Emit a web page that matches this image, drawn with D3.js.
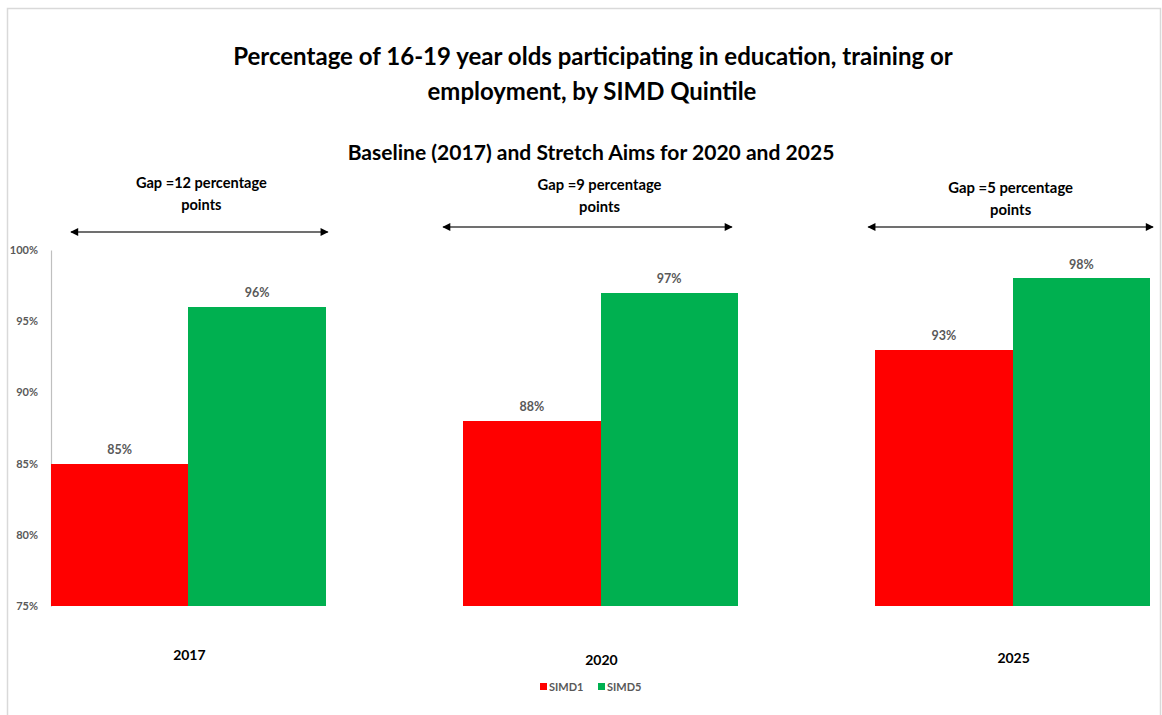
<!DOCTYPE html>
<html><head><meta charset="utf-8">
<script src="https://cdn.jsdelivr.net/npm/d3@7"></script>
<style>body{margin:0;background:#fff} text{font-family:Lato,"Open Sans",sans-serif;}</style>
</head><body>
<svg id="c" width="1162" height="715"></svg>
<script>
// ---- data ----
const categories = ["2017", "2020", "2025"];
const seriesNames = ["SIMD1", "SIMD5"];
const simd1 = [85, 88, 93];
const simd5 = [96, 97, 98];
const yTicks = [75, 80, 85, 90, 95, 100];
const gapLabels = [["Gap =12 percentage", "points"], ["Gap =9 percentage", "points"], ["Gap =5 percentage", "points"]];
const titleLines = ["Percentage of 16-19 year olds participating in education, training or", "employment, by SIMD Quintile"];
const subtitle = "Baseline (2017) and Stretch Aims for 2020 and 2025";

// ---- layout / style ----
const colors = {SIMD1: "#ff0000", SIMD5: "#00b050"};
const svg = d3.select("#c");

function fit(sel, w) {
  const cur = sel.node().getComputedTextLength();
  const fs = parseFloat(sel.attr("font-size"));
  sel.attr("font-size", fs * w / cur);
  return fs * w / cur;
}

// border
svg.append("rect").attr("x", 7.5).attr("y", 8.5).attr("width", 1153).attr("height", 720)
  .attr("fill", "#fff").attr("stroke", "#d9d9d9").attr("stroke-width", 1.5);

const x = d3.scaleBand().domain(categories).range([51, 1150]).paddingInner(1 / 3).paddingOuter(0);
const xs = d3.scaleBand().domain(seriesNames).range([0, x.bandwidth()]);
const y = d3.scaleLinear().domain([75, 100]).range([606, 250]);

// titles
const t1 = svg.append("text").attr("x", 593).attr("y", 57).attr("dy", "0.35em").attr("text-anchor", "middle")
  .attr("font-weight", 700).attr("font-size", 22).attr("fill", "#000").text(titleLines[0]);
fit(t1, 720);
const t2 = svg.append("text").attr("x", 592).attr("y", 92).attr("dy", "0.35em").attr("text-anchor", "middle")
  .attr("font-weight", 700).attr("font-size", 22).attr("fill", "#000").text(titleLines[1]);
fit(t2, 329);
const st = svg.append("text").attr("x", 591).attr("y", 153).attr("dy", "0.35em").attr("text-anchor", "middle")
  .attr("font-weight", 700).attr("font-size", 19).attr("fill", "#000").text(subtitle);
fit(st, 487);

// y axis
const yAxis = d3.axisLeft(y).tickValues(yTicks).tickSize(0).tickPadding(13).tickFormat(d => d + "%");
const ga = svg.append("g").attr("transform", "translate(51,0)").call(yAxis);
ga.select(".domain").attr("stroke", "#bfbfbf").attr("stroke-width", 1.2);
ga.selectAll("text").attr("font-family", "Lato,'Open Sans',sans-serif").attr("font-size", 11)
  .attr("font-weight", 700).attr("fill", "#595959");

// bars
const rows = categories.map((c, i) => ({cat: c, SIMD1: simd1[i], SIMD5: simd5[i]}));
const groups = svg.append("g").selectAll("g").data(rows).join("g")
  .attr("transform", d => `translate(${x(d.cat)},0)`);
groups.selectAll("rect").data(d => seriesNames.map(s => ({s, v: d[s]}))).join("rect")
  .attr("x", d => xs(d.s)).attr("width", xs.bandwidth() + (d => 0)())
  .attr("y", d => y(d.v)).attr("height", d => y(75) - y(d.v))
  .attr("fill", d => colors[d.s]).attr("shape-rendering", "crispEdges");
groups.selectAll("text.val").data(d => seriesNames.map(s => ({s, v: d[s]}))).join("text")
  .attr("class", "val")
  .attr("x", d => xs(d.s) + xs.bandwidth() / 2).attr("y", d => y(d.v) - 14).attr("dy", "0.35em")
  .attr("text-anchor", "middle").attr("font-size", 12.5).attr("font-weight", 700).attr("fill", "#595959")
  .text(d => d.v + "%");

// category labels
const catDy = [655, 660, 658];
svg.append("g").selectAll("text").data(categories).join("text")
  .attr("x", d => x(d) + x.bandwidth() / 2 + 1).attr("y", (d, i) => catDy[i]).attr("dy", "0.35em")
  .attr("text-anchor", "middle").attr("font-size", 14).attr("font-weight", 700).attr("fill", "#000")
  .text(d => d);

// gap annotations
const defs = svg.append("defs");
defs.append("marker").attr("id", "ah").attr("viewBox", "0 0 10 10").attr("refX", 9).attr("refY", 5)
  .attr("markerWidth", 9).attr("markerHeight", 8).attr("markerUnits", "userSpaceOnUse").attr("orient", "auto-start-reverse")
  .append("path").attr("d", "M0,0 L10,5 L0,10 z").attr("fill", "#000");
const arrowOff = [[20, 2], [-20, -6], [-7, 3]];
const arrowY = [232, 227, 227];
const gapTextY = [183, 185, 188];
const gapTextDx = [13, -1, -2];
const gapTextW = [131, 124, 125];
categories.forEach((c, i) => {
  const x0 = x(c), x1 = x(c) + x.bandwidth();
  svg.append("line").attr("x1", x0 + arrowOff[i][0]).attr("x2", x1 + arrowOff[i][1])
    .attr("y1", arrowY[i]).attr("y2", arrowY[i]).attr("stroke", "#404040").attr("stroke-width", 1.3)
    .attr("marker-start", "url(#ah)").attr("marker-end", "url(#ah)");
  let fs = 14;
  gapLabels[i].forEach((ln, j) => {
    const t = svg.append("text").attr("x", x0 + x.bandwidth() / 2 + gapTextDx[i]).attr("y", gapTextY[i] + j * 22)
      .attr("dy", "0.35em").attr("text-anchor", "middle").attr("font-size", fs).attr("font-weight", 700)
      .attr("fill", "#000").text(ln);
    if (j === 0) fs = fit(t, gapTextW[i]);
  });
});

// legend
const lg = svg.append("g").attr("transform", "translate(540,687)");
const li = lg.selectAll("g").data(seriesNames).join("g").attr("transform", (d, i) => `translate(${i * 58},0)`);
li.append("rect").attr("x", 0).attr("y", -4).attr("width", 7).attr("height", 7).attr("fill", d => colors[d]);
li.append("text").attr("x", 9).attr("y", 0).attr("dy", "0.35em").attr("font-size", 11).attr("font-weight", 700)
  .attr("fill", "#595959").text(d => d);
</script>
</body></html>
